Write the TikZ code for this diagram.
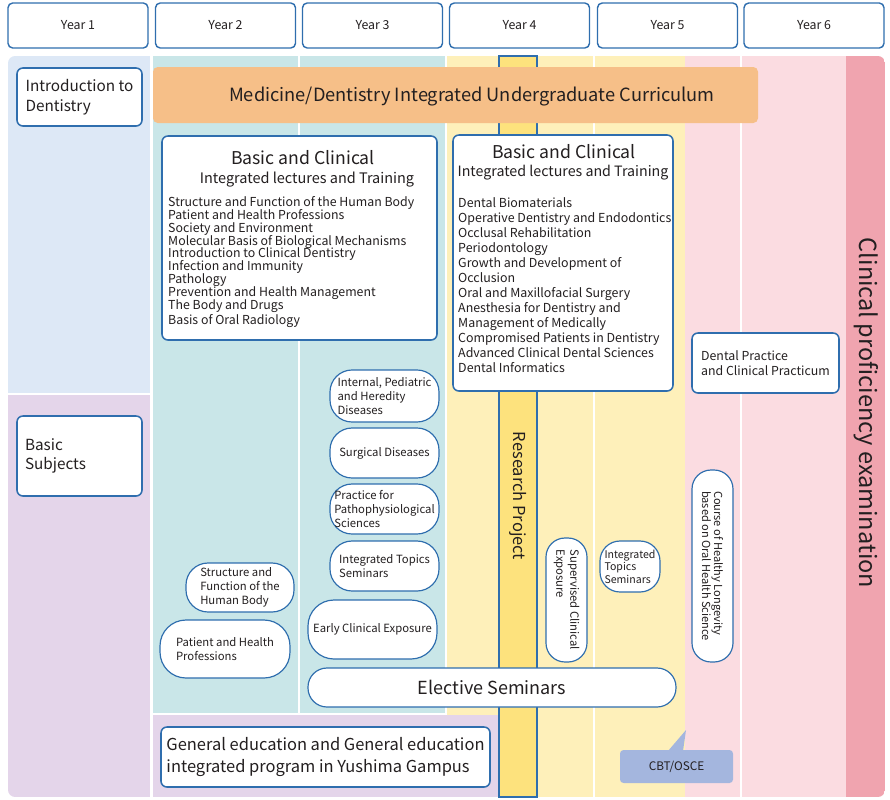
\documentclass[tikz,border=0pt]{standalone}
\usepackage{fontspec}
\setmainfont{Noto Sans CJK JP}
\usepackage{xcolor}
\usetikzlibrary{positioning}

\definecolor{edge}{HTML}{2F6EAE}
\definecolor{ink}{HTML}{231F20}
\definecolor{introbg}{HTML}{DDE8F6}
\definecolor{basicbg}{HTML}{E4D5EA}
\definecolor{tealbg}{HTML}{C9E6E8}
\definecolor{yellowbg}{HTML}{FEF0BA}
\definecolor{pinkbg}{HTML}{FBDCE1}
\definecolor{examfill}{HTML}{F0A4AF}
\definecolor{orangebar}{HTML}{F6BF88}
\definecolor{research}{HTML}{FDE27D}
\definecolor{cbtfill}{HTML}{A4B6DE}

\newcommand{\unitpx}{0.85pt}
\newcommand{\fsz}[2]{\fontsize{#1}{#2}\selectfont}

\tikzset{
  yearbox/.style={draw=edge, line width=1.2pt, rounded corners=4pt, fill=white, text=ink,
    minimum width=140*\unitpx, minimum height=45*\unitpx, font=\fsz{10.5}{12}},
  card/.style={draw=edge, line width=1.3pt, rounded corners=5pt, fill=white, text=ink, align=left},
  pill/.style={draw=edge, line width=1pt, fill=white, text=ink, align=left, inner sep=1pt,
    rounded corners=#1*\unitpx, font=\fsz{9.6}{11.9}},
  pill/.default=22,
  label/.style={text=ink, inner sep=0pt},
}

\begin{document}
\begin{tikzpicture}[x=0.85pt,y=-0.85pt]
\useasboundingbox (0,0) rectangle (890,799);

% year headers
\foreach \n/\cx in {1/78,2/225.5,3/372.5,4/519.5,5/667.5,6/814}
  \node[yearbox] (year\n) at (\cx,25.5) {Year \n};

% background columns
\begin{scope}
  \clip[rounded corners=6pt] (8,56) rectangle (885,797);
  \fill[introbg] (8,56) rectangle (150,393);
  \fill[basicbg] (8,395) rectangle (150,797);
  \fill[tealbg] (153,56) rectangle (298,713);
  \fill[tealbg] (300,56) rectangle (445,713);
  \fill[yellowbg] (447,56) rectangle (593,797);
  \fill[yellowbg] (595,56) rectangle (685,797);
  \fill[basicbg] (153,715) rectangle (499,797);
  \fill[pinkbg] (685,56) rectangle (740,797);
  \fill[pinkbg] (742,56) rectangle (846,797);
  \fill[examfill] (846,56) rectangle (885,797);
\end{scope}
\node[label, rotate=-90, font=\fsz{20}{24}] (exam) at (866,413) {Clinical proficiency examination};

% research project bar
\node[draw=edge, line width=1.5pt, fill=research, minimum width=38*\unitpx,
  minimum height=741*\unitpx, inner sep=0pt] (rp) at (518,426.5) {};
\node[label, rotate=-90, font=\fsz{14}{16}] (rptext) at (518,496) {Research Project};

% integrated curriculum bar
\node[fill=orangebar, rounded corners=4pt, minimum width=605*\unitpx,
  minimum height=56*\unitpx] (mdic) at (455.5,95) {};
\node[label, font=\fsz{15.5}{18}] (mdictext) at (472,97) {Medicine/Dentistry Integrated Undergraduate Curriculum};

% year 1
\node[card, minimum width=125*\unitpx, minimum height=58*\unitpx, font=\fsz{13}{17}] (intro) at (79.5,97) {Introduction to\\Dentistry};
\node[card, minimum width=125*\unitpx, minimum height=80*\unitpx, text width=109*\unitpx, font=\fsz{13}{16}] (basic) at (79.5,456) {Basic\\Subjects};

% basic and clinical, years 2-3
\node[card, minimum width=275*\unitpx, minimum height=204*\unitpx] (lbox) at (299.5,238) {};
\node[label, font=\fsz{15}{18}] (ltitle) at (303,158) {Basic and Clinical};
\node[label, font=\fsz{12.3}{14}] (lsub) at (307,180) {Integrated lectures and Training};
\node[label, anchor=north west, align=left, font=\fsz{10.5}{11}] (llist) at (168,196) {Structure and Function of the Human Body\\
Patient and Health Professions\\
Society and Environment\\
Molecular Basis of Biological Mechanisms\\
Introduction to Clinical Dentistry\\
Infection and Immunity\\
Pathology\\
Prevention and Health Management\\
The Body and Drugs\\
Basis of Oral Radiology};

% basic and clinical, years 4-5
\node[card, minimum width=220*\unitpx, minimum height=256*\unitpx] (rbox) at (563,263) {};
\node[label, font=\fsz{15}{18}] (rtitle) at (564,152) {Basic and Clinical};
\node[label, font=\fsz{12.1}{14}] (rsub) at (563,173) {Integrated lectures and Training};
\node[label, anchor=north west, align=left, font=\fsz{10.55}{12.75}] (rlist) at (458,197) {Dental Biomaterials\\
Operative Dentistry and Endodontics\\
Occlusal Rehabilitation\\
Periodontology\\
Growth and Development of\\
Occlusion\\
Oral and Maxillofacial Surgery\\
Anesthesia for Dentistry and\\
Management of Medically\\
Compromised Patients in Dentistry\\
Advanced Clinical Dental Sciences\\
Dental Informatics};

% year 3 courses
\node[pill, minimum width=109*\unitpx, minimum height=52*\unitpx] (ipd) at (384.5,396) {Internal, Pediatric\\and Heredity\\Diseases};
\node[pill, minimum width=109*\unitpx, minimum height=50*\unitpx] (surg) at (384.5,453) {Surgical Diseases};
\node[pill, minimum width=109*\unitpx, minimum height=50*\unitpx] (pps) at (384.5,509) {Practice for\\Pathophysiological\\Sciences};
\node[pill, minimum width=109*\unitpx, minimum height=50*\unitpx] (its3) at (384.5,566) {Integrated Topics\\Seminars};
\node[pill=26, minimum width=129*\unitpx, minimum height=59*\unitpx] (ece) at (372.5,629.5) {Early Clinical Exposure};

% year 2 courses
\node[pill, minimum width=108*\unitpx, minimum height=49*\unitpx] (shb) at (240,587.5) {Structure and\\Function of the\\Human Body};
\node[pill=26, minimum width=130*\unitpx, minimum height=58*\unitpx] (php) at (225,649) {Patient and Health\\Professions};

\node[pill=19, minimum width=368*\unitpx, minimum height=39*\unitpx, font=\fsz{15.3}{18}] (elective) at (492,687.5) {Elective Seminars};

% years 4-5 courses
\node[pill=19, rotate=-90, minimum width=124*\unitpx, minimum height=41*\unitpx, font=\fsz{9.6}{11.9}] (sce) at (566.5,600) {Supervised Clinical\\Exposure};
\node[pill=20, minimum width=60*\unitpx, minimum height=51*\unitpx, font=\fsz{9}{10.6}] (its5) at (630,566.5) {Integrated\\Topics\\Seminars};

% year 6
\node[card, minimum width=147*\unitpx, minimum height=60*\unitpx, font=\fsz{10.5}{12.8}] (dpcp) at (765.5,363) {Dental Practice\\and Clinical Practicum};
\node[pill=19, rotate=-90, minimum width=192*\unitpx, minimum height=41*\unitpx, font=\fsz{9.4}{10.3}] (chl) at (712.5,566) {Course of Healthy Longevity\\based on Oral Health Science};

% general education
\node[card, minimum width=329*\unitpx, minimum height=60*\unitpx, font=\fsz{14}{19.5}] (gen) at (325.5,757) {General education and General education\\integrated program in Yushima Gampus};

% CBT/OSCE callout
\fill[cbtfill] (668,751) -- (686,730) -- (683,751) -- cycle;
\node[fill=cbtfill, rounded corners=3pt, minimum width=113*\unitpx, minimum height=33*\unitpx,
  text=ink, font=\fsz{10}{12}] (cbt) at (676.5,766.5) {CBT/OSCE};
\end{tikzpicture}
\end{document}
